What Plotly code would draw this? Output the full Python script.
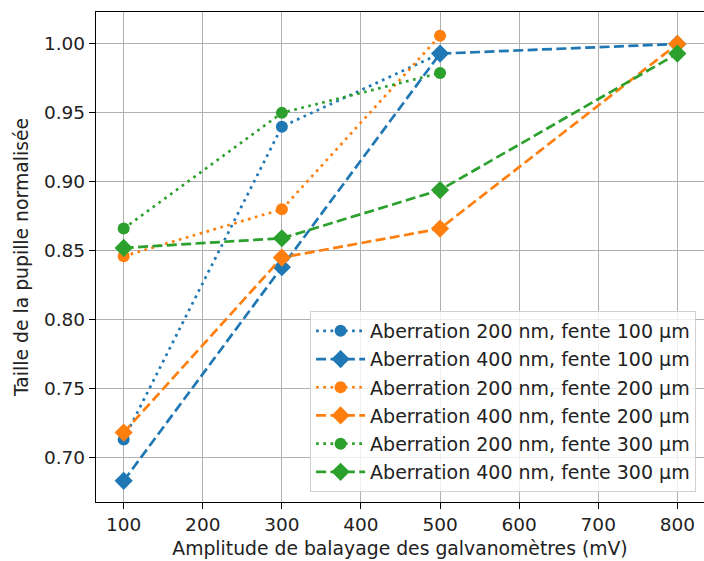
import plotly.graph_objects as go

x_4 = [100, 300, 500, 800]
x_3 = [100, 300, 500]

ab200_f100 = [0.713, 0.940, 0.993]
ab400_f100 = [0.683, 0.838, 0.993, 1.000]
ab200_f200 = [0.846, 0.880, 1.006]
ab400_f200 = [0.718, 0.845, 0.866, 1.000]
ab200_f300 = [0.866, 0.950, 0.979]
ab400_f300 = [0.852, 0.859, 0.894, 0.993]

labels = [
    "Aberration 200 nm, fente 100 µm",
    "Aberration 400 nm, fente 100 µm",
    "Aberration 200 nm, fente 200 µm",
    "Aberration 400 nm, fente 200 µm",
    "Aberration 200 nm, fente 300 µm",
    "Aberration 400 nm, fente 300 µm",
]
series = [
    (x_3, ab200_f100), (x_4, ab400_f100),
    (x_3, ab200_f200), (x_4, ab400_f200),
    (x_3, ab200_f300), (x_4, ab400_f300),
]
colors = ["#1f77b4", "#1f77b4", "#ff7f0e", "#ff7f0e", "#2ca02c", "#2ca02c"]

FONT = "DejaVu Sans"
FS = 18.5
fig = go.Figure()
for i, ((xs, ys), lab, col) in enumerate(zip(series, labels, colors)):
    dotted = (i % 2 == 0)
    fig.add_trace(go.Scatter(
        x=xs, y=ys, name=lab, mode="lines+markers", legendgroup=f"g{i}",
        line=dict(color=col, width=2.7, dash="2.7px,4.5px" if dotted else "10px,4.4px"),
        marker=dict(color=col, size=12 if dotted else 14,
                    symbol="circle" if dotted else "diamond", line=dict(width=0)),
    ))

axis_common = dict(
    showgrid=True, gridcolor="#b0b0b0", gridwidth=1.1,
    showline=True, linecolor="black", linewidth=1.3,
    ticks="outside", ticklen=6, tickwidth=1.2, tickcolor="black",
    tickfont=dict(family=FONT, size=FS, color="#222"),
    zeroline=False, automargin=False,
)

fig.update_layout(
    width=704, height=561,
    margin=dict(l=96, r=0, t=12, b=59),
    paper_bgcolor="white", plot_bgcolor="white",
    font=dict(family=FONT, color="#222"),
    xaxis=dict(range=[65, 833.7], tickvals=[100, 200, 300, 400, 500, 600, 700, 800],
               mirror=True,
               title=dict(text="Amplitude de balayage des galvanomètres (mV)",
                          font=dict(family=FONT, size=18.8, color="#222"), standoff=7),
               **axis_common),
    yaxis=dict(range=[0.6676, 1.0232], tickvals=[0.70, 0.75, 0.80, 0.85, 0.90, 0.95, 1.00],
               ticktext=["0.70", "0.75", "0.80", "0.85", "0.90", "0.95", "1.00"],
               mirror=False,
               title=dict(text="Taille de la pupille normalisée",
                          font=dict(family=FONT, size=18.8, color="#222"), standoff=10),
               **axis_common),
    legend=dict(x=0.987, y=0.0204, xanchor="right", yanchor="bottom",
                bgcolor="rgba(255,255,255,0.8)", bordercolor="#d0d0d0", borderwidth=1,
                font=dict(family=FONT, size=19, color="#222"), tracegroupgap=0.5,
                itemwidth=49),
    showlegend=True,
)

fig.write_html("out.html", config={"displayModeBar": False},
               post_script="document.body.style.margin='0';document.body.style.overflow='hidden';")
